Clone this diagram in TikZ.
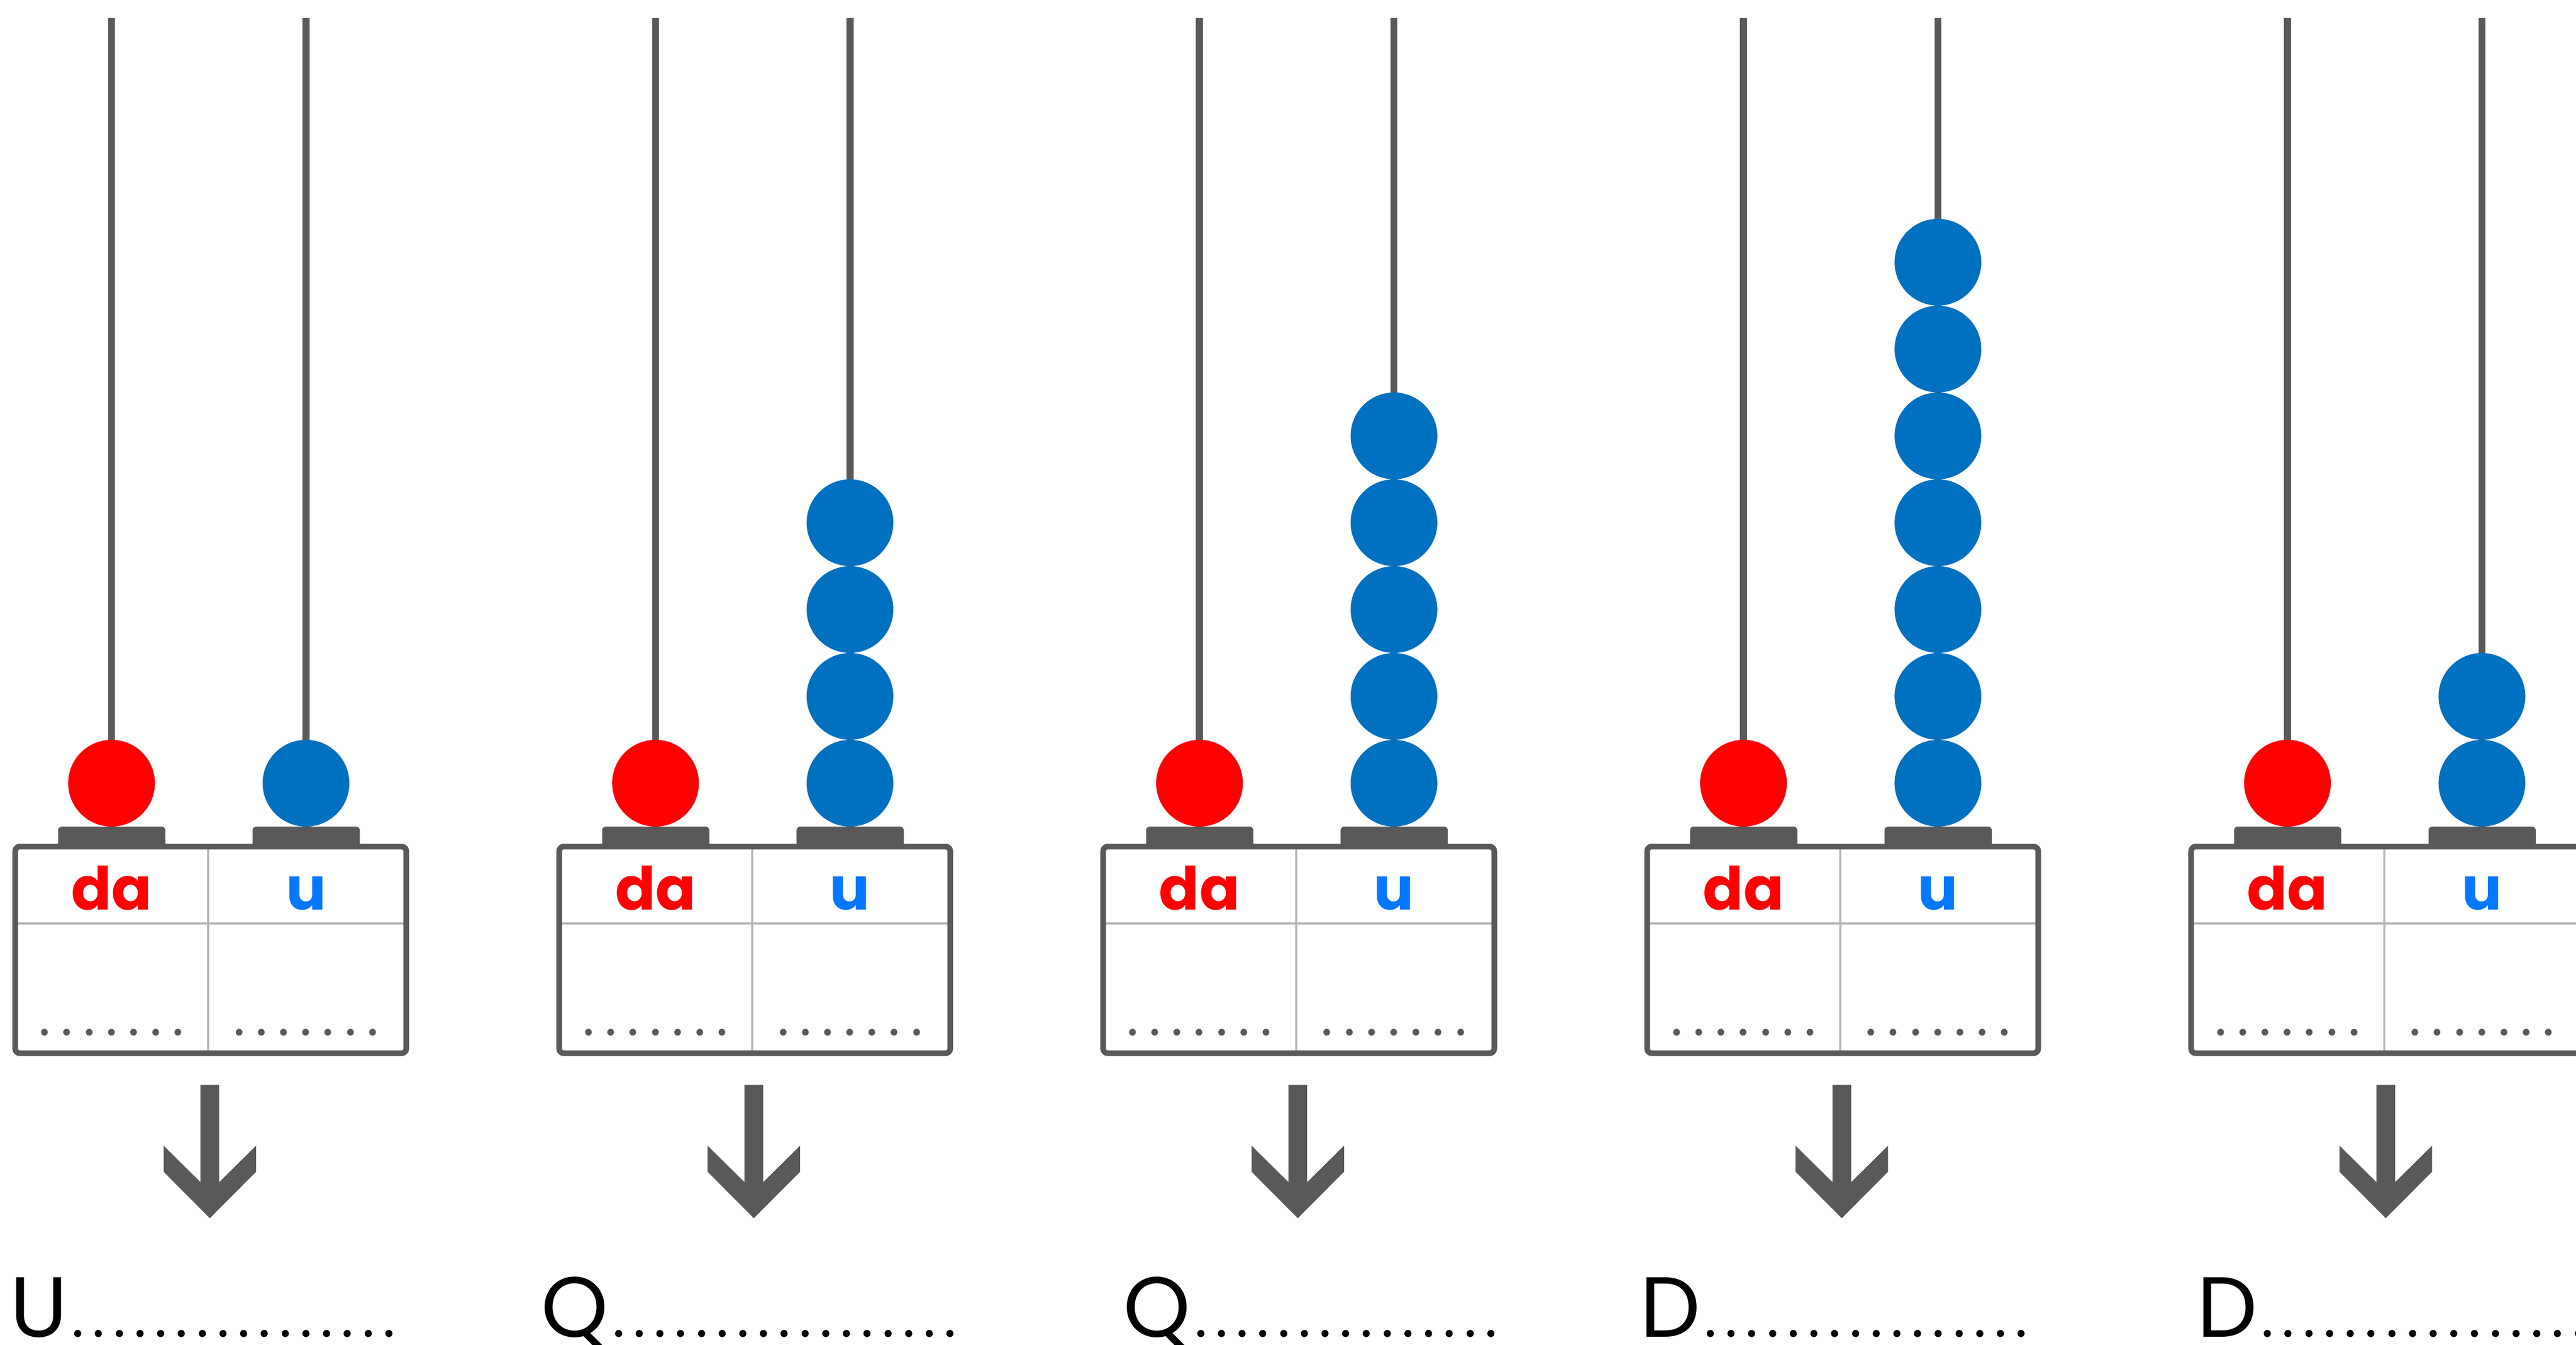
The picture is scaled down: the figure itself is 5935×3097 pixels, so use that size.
\documentclass[tikz,border=0pt]{standalone}
\usepackage{fontspec}
\setmainfont{Poppins}

\definecolor{rodgray}{HTML}{595959}
\definecolor{beadred}{HTML}{FF0000}
\definecolor{beadblue}{HTML}{0070C0}
\definecolor{unitblue}{HTML}{0078FF}
\definecolor{linegray}{HTML}{B3B3B3}

% a row of #1 dots, each in a box #2 wide
\newcount\dotcnt
\newcommand\dotline[2]{\dotcnt=#1\relax
    \loop\ifnum\dotcnt>0 \hbox to #2{\hss.\hss}\advance\dotcnt by -1 \repeat}

\begin{document}
\begin{tikzpicture}[x=0.005cm, y=-0.005cm,
    rod/.style={rodgray, line width=2.28pt},
    frame/.style={rodgray, line width=1.85pt, rounded corners=1.5pt},
    grid/.style={linegray, line width=0.71pt},
    head/.style={font=\bfseries\fontsize{19.5}{20}\selectfont, inner sep=0, anchor=base},
    blanks/.style={rodgray, font=\fontsize{18}{20}\selectfont, inner sep=0, anchor=base},
    answer/.style={font=\fontsize{28}{30}\selectfont, inner sep=0, text depth=0pt, anchor=base west}]
    \useasboundingbox (0,0) rectangle (5935,3097);

    % One abacus per number: offset, blue beads, letter, letter x, dots
    \foreach \k/\nb/\ltr/\lx/\nd in {0/1/U/22/16, 1/4/Q/-8/17, 2/5/Q/80/15, 3/7/D/17/16, 4/2/D/47/16}{
    \begin{scope}[shift={(\k*1253.3,0)}]
        % Draw the rods and their feet
        \draw[rod] (257,42) -- (257,1910);
        \draw[rod] (705,42) -- (705,1910);
        \fill[rodgray, rounded corners=1.2pt] (134,1950) rectangle (381,1904);
        \fill[rodgray, rounded corners=1.2pt] (582,1950) rectangle (829,1904);

        % Beads: one ten, \nb units
        \fill[beadred] (257,1804) circle[radius=0.5cm];
        \foreach \i in {1,...,\nb}
            \fill[beadblue] (705,{1804-200*(\i-1)}) circle[radius=0.5cm];

        % The table under the abacus
        \draw[grid] (480,1950) -- (480,2426);
        \draw[grid] (35,2127) -- (936,2127);
        \draw[frame] (35,1950) rectangle (936,2426);
        \node[head, beadred] (da\k) at (257,2096) {da};
        \node[head, unitblue] (u\k) at (705,2096) {u};
        \node[blanks] (dda\k) at (257,2385) {\dotline{7}{7.3pt}};
        \node[blanks] (du\k) at (705,2385) {\dotline{7}{7.3pt}};

        % Arrow down to the answer
        \fill[rodgray] (462,2499) -- (505,2499) -- (505,2723) -- (590,2639) -- (590,2699)
            -- (483.5,2806) -- (377,2699) -- (377,2639) -- (462,2723) -- cycle;
        \node[answer] (ans\k) at (\lx,3080) {\ltr{\fontsize{19}{20}\selectfont\dotline{\nd}{6.8pt}}};
    \end{scope}
    }
\end{tikzpicture}
\end{document}
